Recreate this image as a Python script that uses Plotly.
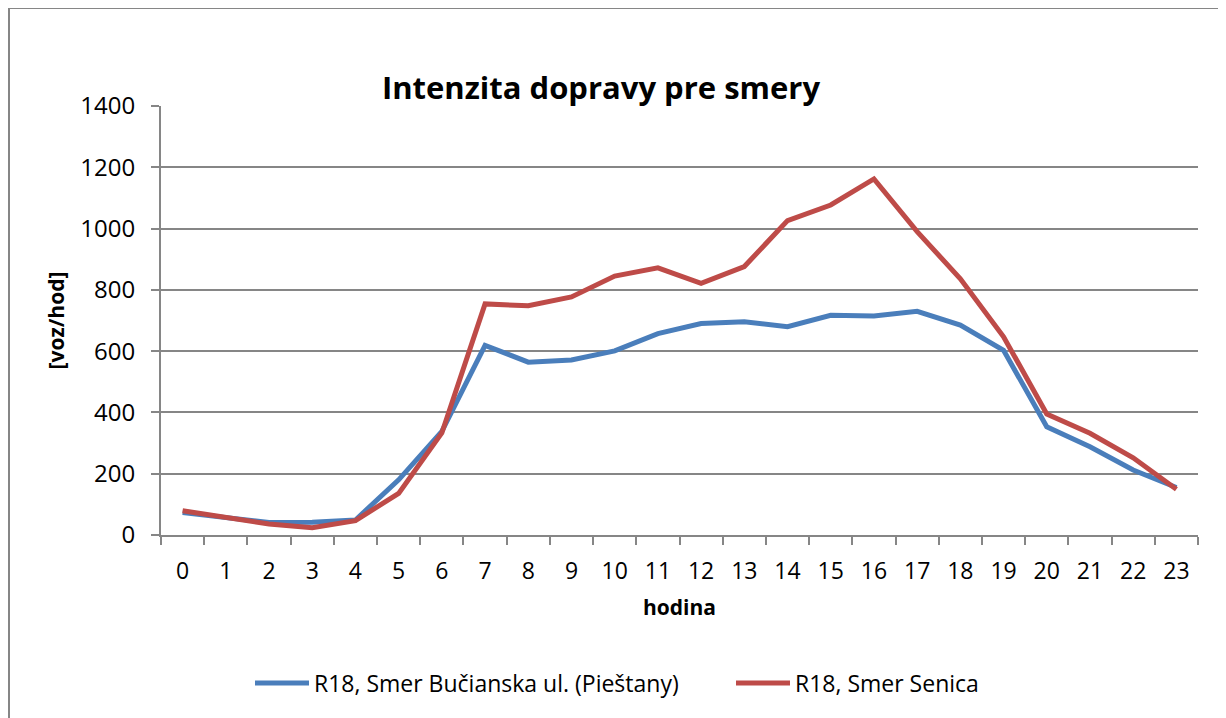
import plotly.graph_objects as go

hours = [str(h) for h in range(24)]
smer_bucianska = [73, 58, 41, 42, 49, 180, 338, 619, 564, 571, 601, 657, 690, 696, 680, 717, 715, 730, 685, 603, 353, 288, 212, 155]
smer_senica = [79, 57, 36, 24, 47, 136, 333, 754, 748, 777, 845, 872, 821, 876, 1026, 1077, 1162, 990, 836, 647, 395, 332, 252, 149]

series_names = ["R18, Smer Bučianska ul. (Pieštany)", "R18, Smer Senica"]
series_colors = ["#4A7EBB", "#BE4B48"]
y_ticks = list(range(0, 1401, 200))

FONT = "Open Sans"
GRAY = "#868686"

fig = go.Figure()
for i, (name, vals, col) in enumerate(zip(series_names, [smer_bucianska, smer_senica], series_colors)):
    fig.add_trace(go.Scatter(x=hours, y=vals, name=name, mode="lines",
                             line=dict(color=col, width=5),
                             legend="legend" if i == 0 else "legend2"))

# page has an 8px body margin, so the figure is laid out 8px up/left
OFF = 8
W, H = 1226 - OFF, 718 - OFF
L, R, T, B = 161 - OFF, 1198 - OFF, 106 - OFF, 535 - OFF
pw, ph = R - L, B - T

legend_common = dict(orientation="h", yanchor="middle", xanchor="left",
                     y=(B - (683 - OFF)) / ph, bgcolor="rgba(0,0,0,0)",
                     font=dict(family=FONT, size=23), itemwidth=54)

fig.update_layout(
    width=W, height=H,
    margin=dict(l=L, r=W - R, t=T, b=H - B, autoexpand=False),
    paper_bgcolor="white", plot_bgcolor="white",
    font=dict(family=FONT, size=22, color="black"),
    title=dict(text="<b>Intenzita dopravy pre smery</b>", x=(601 - OFF) / W, y=1 - (88 - OFF) / H,
               xanchor="center", yanchor="middle", xref="container", yref="container",
               font=dict(family=FONT, size=31, color="black")),
    showlegend=True,
    legend=dict(legend_common, x=(250 - OFF - L) / pw),
    legend2=dict(legend_common, x=(731 - OFF - L) / pw),
    xaxis=dict(type="category", range=[-0.5, 23.5], tickson="boundaries", ticks="outside", ticklen=8,
               tickcolor=GRAY, tickwidth=2, showline=True, linecolor=GRAY, linewidth=2,
               showgrid=False, zeroline=False, tickfont=dict(size=23), ticklabelstandoff=14,
               title=dict(text="<b>hodina</b>", font=dict(size=21), standoff=16)),
    yaxis=dict(range=[0, 1400], tickvals=y_ticks, ticks="outside", ticklen=8,
               tickcolor=GRAY, tickwidth=2, showline=True, linecolor=GRAY, linewidth=2,
               showgrid=True, gridcolor=GRAY, gridwidth=2, zeroline=False,
               tickfont=dict(size=24), ticklabelstandoff=11,
               title=dict(text="<b>[voz/hod]</b>", font=dict(size=21), standoff=10)),
    shapes=[dict(type="rect", xref="paper", yref="paper",
                 x0=(1 - L) / pw, x1=(W + 10 - L) / pw,
                 y0=(B - (H + 10)) / ph, y1=(B - 0) / ph,
                 line=dict(color=GRAY, width=2), fillcolor="rgba(0,0,0,0)", layer="below")],
)

fig.write_html("out.html")
